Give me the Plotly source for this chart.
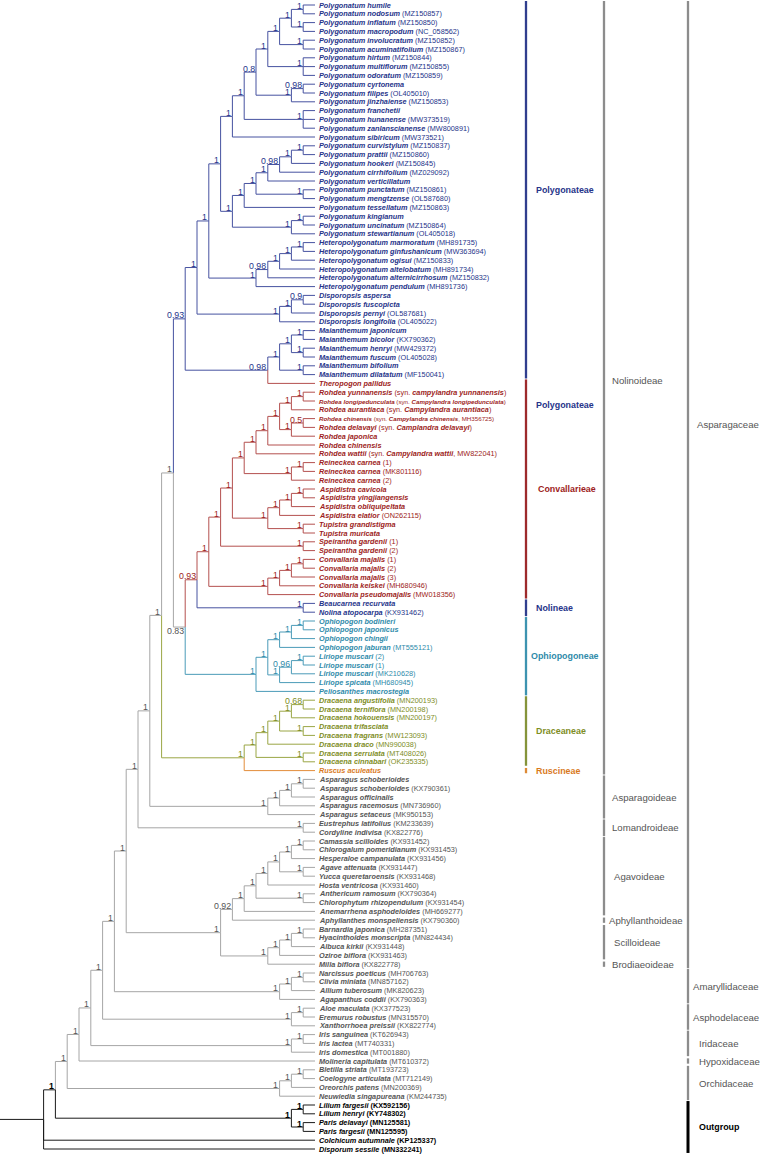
import re
import plotly.graph_objects as go

W, H = 761, 1154

# ---------------- data ----------------
TIP_NAMES = [
    "Polygonatum humile", "Polygonatum nodosum", "Polygonatum inflatum", "Polygonatum macropodum",
    "Polygonatum involucratum", "Polygonatum acuminatifolium", "Polygonatum hirtum", "Polygonatum multiflorum",
    "Polygonatum odoratum", "Polygonatum cyrtonema", "Polygonatum filipes", "Polygonatum jinzhaiense",
    "Polygonatum franchetii", "Polygonatum hunanense", "Polygonatum zanlanscianense", "Polygonatum sibiricum",
    "Polygonatum curvistylum", "Polygonatum prattii", "Polygonatum hookeri", "Polygonatum cirrhifolium",
    "Polygonatum verticillatum", "Polygonatum punctatum", "Polygonatum mengtzense", "Polygonatum tessellatum",
    "Polygonatum kingianum", "Polygonatum uncinatum", "Polygonatum stewartianum",
    "Heteropolygonatum marmoratum", "Heteropolygonatum ginfushanicum", "Heteropolygonatum ogisui",
    "Heteropolygonatum altelobatum", "Heteropolygonatum alternicirrhosum", "Heteropolygonatum pendulum",
    "Disporopsis aspersa", "Disporopsis fuscopicta", "Disporopsis pernyi", "Disporopsis longifolia",
    "Maianthemum japonicum", "Maianthemum bicolor", "Maianthemum henryi", "Maianthemum fuscum",
    "Maianthemum bifolium", "Maianthemum dilatatum", "Theropogon pallidus",
    "Rohdea yunnanensis", "Rohdea longipedunculata", "Rohdea aurantiaca", "Rohdea chinensis",
    "Rohdea delavayi", "Rohdea japonica", "Rohdea chinensis", "Rohdea wattii",
    "Reineckea carnea", "Reineckea carnea", "Reineckea carnea",
    "Aspidistra cavicola", "Aspidistra yingjiangensis", "Aspidistra obliquipeltata", "Aspidistra elatior",
    "Tupistra grandistigma", "Tupistra muricata", "Speirantha gardenii", "Speirantha gardenii",
    "Convallaria majalis", "Convallaria majalis", "Convallaria majalis", "Convallaria keiskei",
    "Convallaria pseudomajalis", "Beaucarnea recurvata", "Nolina atopocarpa",
    "Ophiopogon bodinieri", "Ophiopogon japonicus", "Ophiopogon chingii", "Ophiopogon jaburan",
    "Liriope muscari", "Liriope muscari", "Liriope muscari", "Liriope spicata", "Peliosanthes macrostegia",
    "Dracaena angustifolia", "Dracaena terniflora", "Dracaena hokouensis", "Dracaena trifasciata",
    "Dracaena fragrans", "Dracaena draco", "Dracaena serrulata", "Dracaena cinnabari", "Ruscus aculeatus",
    "Asparagus schoberioides", "Asparagus schoberioides", "Asparagus officinalis", "Asparagus racemosus",
    "Asparagus setaceus", "Eustrephus latifolius", "Cordyline indivisa",
    "Camassia scilloides", "Chlorogalum pomeridianum", "Hesperaloe campanulata", "Agave attenuata",
    "Yucca queretaroensis", "Hosta ventricosa", "Anthericum ramosum", "Chlorophytum rhizopendulum",
    "Anemarrhena asphodeloides", "Aphyllanthes monspeliensis", "Barnardia japonica",
    "Hyacinthoides monscripta", "Albuca kirkii", "Oziroe biflora", "Milla biflora",
    "Narcissus poeticus", "Clivia miniata", "Allium tuberosum", "Agapanthus coddii",
    "Aloe maculata", "Eremurus robustus", "Xanthorrhoea preissii",
    "Iris sanguinea", "Iris lactea", "Iris domestica", "Molineria capitulata",
    "Bletilla striata", "Coelogyne articulata", "Oreorchis patens", "Neuwiedia singapureana",
    "Lilium fargesii", "Lilium henryi", "Paris delavayi", "Paris fargesii",
    "Colchicum autumnale", "Disporum sessile",
]

TIP_ACC = [
    "", "MZ150857", "MZ150850", "NC_058562", "MZ150852", "MZ150867", "MZ150844", "MZ150855",
    "MZ150859", "", "OL405010", "MZ150853", "", "MW373519", "MW800891", "MW373521",
    "MZ150837", "MZ150860", "MZ150845", "MZ029092", "", "MZ150861", "OL587680", "MZ150863",
    "", "MZ150864", "OL405018", "MH891735", "MW363694", "MZ150833", "MH891734", "MZ150832",
    "MH891736", "", "", "OL587681", "OL405022", "", "KX790362", "MW429372", "OL405028", "",
    "MF150041", "", "", "", "", "MH356725", "", "", "", "MW822041",
    "1", "MK801116", "2", "", "", "", "ON262115", "", "", "1", "2", "1", "2", "3",
    "MH680946", "MW018356", "", "KX931462", "", "", "", "MT555121", "2", "1", "MK210628",
    "MH680945", "", "MN200193", "MN200198", "MN200197", "", "MW123093", "MN990038",
    "MT408026", "OK235335", "", "", "KX790361", "", "MN736960", "MK950153", "KM233639",
    "KX822776", "KX931452", "KX931453", "KX931456", "KX931447", "KX931468", "KX931460",
    "KX790364", "KX931454", "MH669277", "KX790360", "MH287351", "MN824434", "KX931448",
    "KX931463", "KX822778", "MH706763", "MN857162", "MK820623", "KX790363", "KX377523",
    "MN315570", "KX822774", "KT626943", "MT740331", "MT001880", "MT610372", "MT193723",
    "MT712149", "MN200369", "KM244735", "KX592156", "KY748302", "MN125581", "MN125595",
    "KP125337", "MN332241",
]

TIP_SYN = {
    44: "campylandra yunnanensis", 45: "Campylandra longipedunculata", 46: "Campylandra aurantiaca",
    47: "Campylandra chinensis", 48: "Camplandra delavayi", 51: "Campylandra wattii",
}
SMALL_FONT_TIPS = [45, 47]


def C(*kids, s="1", tag=""):
    """Newick clade: children, support value, optional colour key."""
    return "(" + ",".join(str(k) for k in kids) + ")" + s + ("[%s]" % tag if tag else "")


# tree topology (tip indices) with support values ("@b" = support printed below the branch)
POLY_A = C(C(C(C(C(C(C(0, 1), C(2, 3)), C(4, 5)), C(6, 7, 8)), C(C(9, 10, s="0.98"), 11), s="0.8"),
             C(12, 13, 14)), 15)
POLY_D = C(C(C(C(C(C(C(16, 17), 18), 19, s="0.98"), 20), C(21, 22)), 23), C(C(24, 25), 26))
HETERO = C(C(C(C(C(27, 28), 29), 30), 31, s="0.98"), 32)
DISPOROPSIS = C(C(C(33, 34, s="0.9"), 35), 36)
MAIANTHEMUM = C(C(C(C(37, 38), C(39, 40)), C(41, 42)), "43[red]", s="0.98")
POLYGONATEAE = C(C(C(C(POLY_A, POLY_D), HETERO), DISPOROPSIS), MAIANTHEMUM, s="0.93", tag="blue")

ROHDEA = C(C(C(C(C(C(44, 45), 46), C(C(47, 48, s="0.5"), 49)), 50), 51), C(C(52, 53), 54))
ASPIDISTRA = C(C(C(C(55, 56), 57), 58), C(59, 60))
CONVALLARIA = C(C(C(C(63, 64), 65), 66), 67)
CONVALLARIEAE = C(C(C(C(ROHDEA, ASPIDISTRA), C(61, 62)), CONVALLARIA), C(68, 69, tag="blue"),
                  s="0.93", tag="red")
OPHIOPOGONEAE = C(C(C(C(C(70, 71), 72), 73), C(C(C(74, 75), 76, s="0.96"), 77)), 78, tag="teal")
DRACAENEAE = C(C(C(C(C(C(79, 80, s="0.68"), 81), C(82, 83)), 84), C(85, 86)), "87[orange]", tag="olive")
ASPARAGUS = C(C(C(C(88, 89), 90), 91), 92)
AGAVOIDEAE = C(C(C(C(C(C(C(95, 96), 97), C(98, 99)), 100), C(101, 102)), 103), 104, s="0.92")
SCILLOIDEAE = C(C(C(C(105, 106), 107), 108), 109)
AMARYLLIDACEAE = C(C(C(110, 111), 112), 113)
ASPHODELACEAE = C(C(114, 115), 116)
IRIDACEAE = C(C(117, 118), 119)
ORCHIDACEAE = C(C(C(121, 122), 123), 124)
OUTGROUP = C(C(125, 126), C(127, 128))

NOLINOIDEAE = C(C(POLYGONATEAE, C(CONVALLARIEAE, OPHIOPOGONEAE, s="0.83@b")), DRACAENEAE)
ASPARAGACEAE = C(C(C(NOLINOIDEAE, ASPARAGUS), C(93, 94)), C(AGAVOIDEAE, SCILLOIDEAE))
INGROUP = C(C(C(C(C(ASPARAGACEAE, AMARYLLIDACEAE), ASPHODELACEAE), IRIDACEAE), 120), ORCHIDACEAE,
            tag="gray")
NEWICK = C(C(INGROUP, OUTGROUP), 129, 130, s="", tag="black")

GROUP_NAMES = ["Polygonateae", "Polygonateae", "Convallarieae", "Nolineae", "Ophiopogoneae", "Draceaneae",
               "Ruscineae", "Nolinoideae", "Asparagoideae", "Lomandroideae", "Agavoideae", "Aphyllanthoideae",
               "Scilloideae", "Brodiaeoideae", "Asparagaceae", "Amaryllidaceae", "Asphodelaceae",
               "Iridaceae", "Hypoxidaceae", "Orchidaceae", "Outgroup"]
GROUP_FIRST = [0, 43, 43, 68, 70, 79, 87, 0, 88, 93, 95, 104, 105, 109, 0, 110, 114, 117, 120, 121, 125]
GROUP_LAST = [42, 67, 67, 69, 78, 86, 87, 87, 92, 94, 103, 104, 108, 109, 109, 113, 116, 119, 120, 124, 130]
GROUP_LABEL_AT = [None, 45.5, None, None, None, None, None, 42.7, None, None, None, None,
                  None, None, 47.7, None, None, None, None, None, None]
GROUP_COLUMN = [1, 1, 1, 1, 1, 1, 1, 2, 2, 2, 2, 2, 2, 2, 3, 3, 3, 3, 3, 3, 3]
GROUP_COLOR = ["blue", "blue", "red", "blue", "teal", "olive", "orange", "gray", "gray", "gray", "gray",
               "gray", "gray", "gray", "gray", "gray", "gray", "gray", "gray", "gray", "black"]
GROUP_DRAW_BAR = [True, False, True, True, True, True, True, True, True, True, True, True, True, True,
                  True, True, True, True, True, True, True]

# ---------------- styles ----------------
LINE_COLOR = {"blue": "#4652a0", "red": "#b4504f", "teal": "#4a9bb8", "olive": "#9aa645",
              "orange": "#e38d3a", "gray": "#a6a6a6", "black": "#1a1a1a"}
TEXT_COLOR = {"blue": "#26348a", "red": "#9d1d22", "teal": "#2f8baa", "olive": "#7e8d25",
              "orange": "#d97a1e", "gray": "#555555", "black": "#000000"}
BAR_COLOR = {"blue": "#303e8e", "red": "#9d2a2c", "teal": "#3d93b0", "olive": "#85943a",
             "orange": "#dd8a36", "gray": "#8c8c8c", "black": "#000000"}
FONT = "Liberation Sans, Arial, sans-serif"
TIP_PX, STEP_PX = 315.0, 11.8     # pixel of tips, pixel per node level
TOP_PX, ROW_PX = 5.0, 8.8         # pixel of first tip, pixel per tip
COL_PX = {1: 526, 2: 604, 3: 688}
COL_TEXT_SHIFT = {1: 10, 2: 8, 3: 8}
LABEL_NUDGE = {"Convallarieae": 2, "Ophiopogoneae": -5, "Agavoideae": 2, "Scilloideae": 2,
               "Aphyllanthoideae": -3, "Amaryllidaceae": -3, "Asphodelaceae": -3, "Asparagaceae": 1,
               "Iridaceae": 3, "Hypoxidaceae": 3, "Orchidaceae": 3, "Outgroup": 3}


def px_x(p):
    return (p - TIP_PX) / STEP_PX


# ---------------- parse tree ----------------
def parse(s):
    pos = 0

    def node():
        nonlocal pos
        if s[pos] == "(":
            pos += 1
            kids = [node()]
            while s[pos] == ",":
                pos += 1
                kids.append(node())
            assert s[pos] == ")"
            pos += 1
            m = re.match(r"([0-9.]*)(@b)?(?:\[(\w+)\])?", s[pos:])
            pos += m.end()
            return {"kids": kids, "support": m.group(1) or None, "below": bool(m.group(2)),
                    "tag": m.group(3)}
        m = re.match(r"(\d+)(?:\[(\w+)\])?", s[pos:])
        pos += m.end()
        return {"kids": [], "tip": int(m.group(1)), "tag": m.group(2)}

    return node()


root = parse(NEWICK)


def layout(n, color):
    n["color"] = n["tag"] or color
    if not n["kids"]:
        n["h"] = 0
        n["y"] = n["tip"]
    else:
        for k in n["kids"]:
            layout(k, n["color"])
        n["h"] = 1 + max(k["h"] for k in n["kids"])
        n["y"] = (n["kids"][0]["y"] + n["kids"][-1]["y"]) / 2
    n["x"] = -n["h"]


layout(root, "black")

segs = {k: ([], []) for k in LINE_COLOR}
annotations = []


def walk(n):
    if n["kids"]:
        for k in n["kids"]:
            xs, ys = segs[k["color"]]
            xs += [n["x"], n["x"], k["x"], None]
            ys += [n["y"], k["y"], k["y"], None]
            walk(k)
        if n.get("support"):
            bold = n["color"] == "black"
            below = n["below"]
            annotations.append(dict(
                x=n["x"], y=n["y"], text=("<b>%s</b>" % n["support"]) if bold else n["support"],
                xanchor="right", yanchor="top" if below else "bottom", xshift=-1.5,
                yshift=1 if below else -1.5, showarrow=False,
                font=dict(family=FONT, size=8.8, color=TEXT_COLOR[n["color"]]),
                borderpad=0, borderwidth=0))
    else:
        i = n["tip"]
        name = "<b><i>%s</i></b>" % TIP_NAMES[i]
        syn = TIP_SYN.get(i)
        acc = TIP_ACC[i]
        suffix = ""
        if syn:
            suffix = " (syn. <b><i>%s</i></b>%s)" % (syn, (", " + acc) if acc else "")
        elif acc:
            suffix = " (%s)" % acc
        if n["color"] == "black":
            suffix = "<b>%s</b>" % suffix
        size = 6.2 if i in SMALL_FONT_TIPS else 7.3
        annotations.append(dict(
            x=0, y=i, text=name + suffix, xanchor="left", yanchor="middle", xshift=4,
            showarrow=False, borderpad=0, borderwidth=0,
            font=dict(family=FONT, size=size, color=TEXT_COLOR[n["color"]])))


walk(root)

# root stem
xs, ys = segs[root["color"]]
xs += [px_x(0), root["x"], None]
ys += [root["y"], root["y"], None]

fig = go.Figure()
for key, (xs, ys) in segs.items():
    if xs:
        fig.add_trace(go.Scatter(x=xs, y=ys, mode="lines", hoverinfo="skip",
                                 line=dict(color=LINE_COLOR[key], width=1.0), showlegend=False))

# group bars and labels
for name, a, b, at, col, ck, draw in zip(GROUP_NAMES, GROUP_FIRST, GROUP_LAST, GROUP_LABEL_AT,
                                          GROUP_COLUMN, GROUP_COLOR, GROUP_DRAW_BAR):
    bx = px_x(COL_PX[col])
    tribe = col == 1
    if draw:
        pad = 0.45 if b > a else 0.3
        fig.add_trace(go.Scatter(x=[bx, bx], y=[a - pad, b + pad], mode="lines", hoverinfo="skip",
                                 showlegend=False,
                                 line=dict(color=BAR_COLOR[ck], width=3 if ck == "black" else 2.3)))
    ly = at if at is not None else (a + b) / 2
    bold = tribe or ck == "black"
    annotations.append(dict(
        x=bx, y=ly, text=("<b>%s</b>" % name) if bold else name, xanchor="left", yanchor="middle",
        xshift=COL_TEXT_SHIFT[col] + LABEL_NUDGE.get(name, 0), showarrow=False,
        borderpad=0, borderwidth=0,
        font=dict(family=FONT, size=8.9 if bold else 9.6, color=TEXT_COLOR[ck])))

fig.update_layout(
    width=W, height=H, margin=dict(l=0, r=0, t=0, b=0),
    plot_bgcolor="white", paper_bgcolor="white",
    xaxis=dict(range=[px_x(0), px_x(W)], visible=False, fixedrange=True),
    yaxis=dict(range=[(H - TOP_PX) / ROW_PX, -TOP_PX / ROW_PX], visible=False, fixedrange=True),
    annotations=annotations,
)
fig.write_html("out.html", config={"displayModeBar": False},
               post_script="document.body.style.margin='0';document.body.style.overflow='hidden';")
